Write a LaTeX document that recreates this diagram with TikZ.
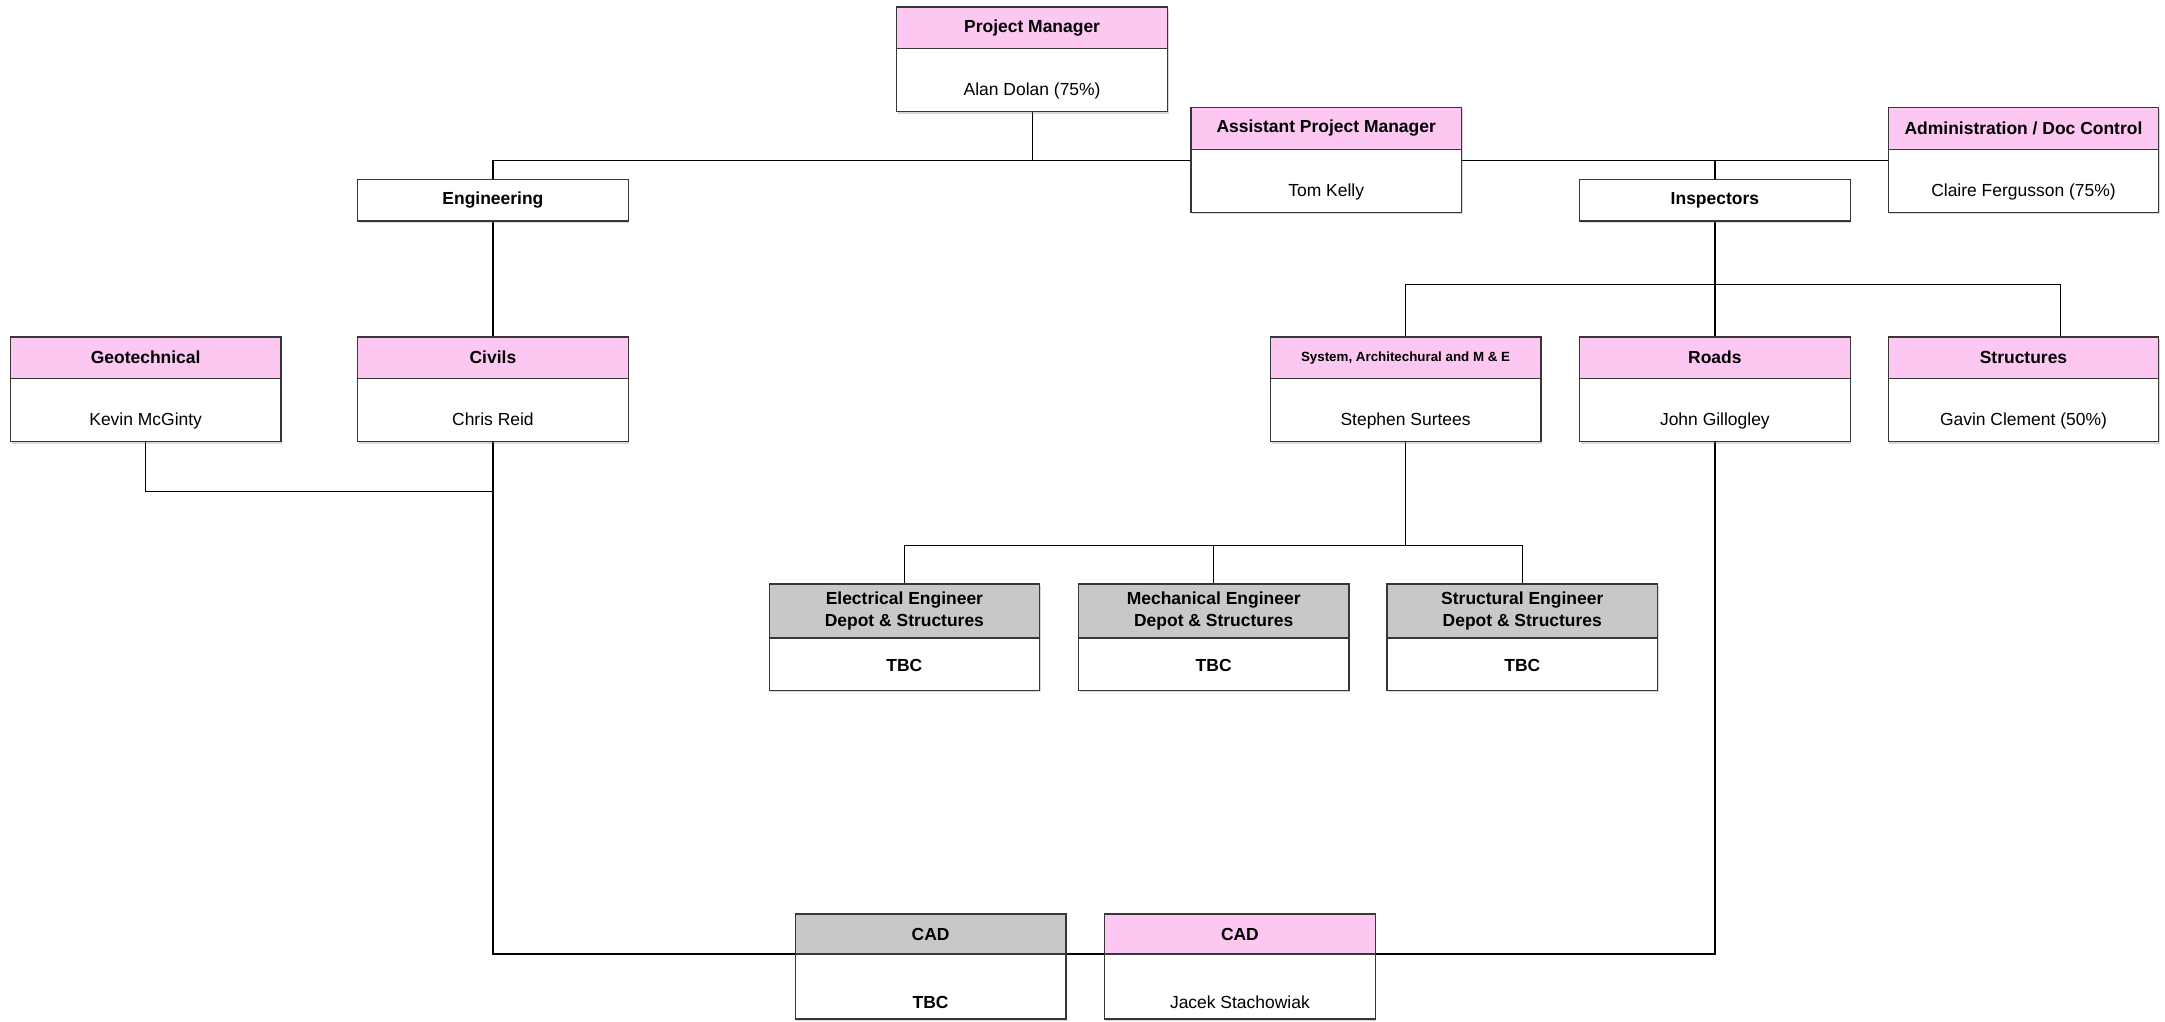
\documentclass[tikz,border=0pt]{standalone}
\usepackage{fontspec}
\setmainfont{Liberation Sans}
\usepackage{tikz}
\usetikzlibrary{positioning}
\usetikzlibrary{backgrounds}
\usetikzlibrary{shadows}
\definecolor{headpink}{RGB}{252,200,242}
\definecolor{headgrey}{RGB}{200,200,200}
\definecolor{boxline}{RGB}{55,55,55}
\tikzset{
  cell/.style={draw=boxline, line width=0.5pt, fill=white, minimum width=3.92cm, inner sep=1pt, outer sep=0pt, align=center,
    drop shadow={shadow xshift=0.5pt, shadow yshift=-0.7pt, opacity=0.3, fill=black!50}},
  head/.style={cell, minimum height=0.6cm, font=\fontsize{7.2}{8.8}\selectfont\bfseries},
  body/.style={cell, minimum height=0.92cm, text depth=0pt, text height=13pt, font=\fontsize{7.2}{8.8}\selectfont},
  link/.style={line width=0.5pt, black},
}
% name, top centre, head options, head text, body options, body text
\newcommand{\orgbox}[6]{%
  \node[head, anchor=north, #3] (#1h) at (#2) {#4};
  \node[body, below=0pt of #1h, #5] (#1) {#6};
}
\begin{document}
\begin{tikzpicture}[x=0.02cm,y=-0.02cm]
\useasboundingbox (0,0) rectangle (1568,739.5);
\orgbox{pm}{747.5,5}{fill=headpink}{Project Manager}{}{Alan Dolan (75\%)}
\orgbox{apm}{960.5,78}{fill=headpink}{Assistant Project Manager}{}{Tom Kelly}
\orgbox{adm}{1465.5,78}{fill=headpink}{Administration / Doc Control}{}{Claire Fergusson (75\%)}
\node[head, anchor=north] (eng) at (357,130) {Engineering};
\node[head, anchor=north] (ins) at (1242,130) {Inspectors};
\orgbox{geo}{105.5,244}{fill=headpink}{Geotechnical}{}{Kevin McGinty}
\orgbox{civ}{357,244}{fill=headpink}{Civils}{}{Chris Reid}
\orgbox{sys}{1018,244}{fill=headpink, font=\fontsize{5.5}{6.6}\selectfont\bfseries}{System, Architechural and M \& E}{}{Stephen Surtees}
\orgbox{rds}{1242,244}{fill=headpink}{Roads}{}{John Gillogley}
\orgbox{str}{1465.5,244}{fill=headpink}{Structures}{}{Gavin Clement (50\%)}
\orgbox{ele}{655,423}{fill=headgrey, minimum height=0.78cm}{Electrical Engineer\\Depot \& Structures}{minimum height=0.76cm, text height=6pt}{\textbf{TBC}}
\orgbox{mec}{879,423}{fill=headgrey, minimum height=0.78cm}{Mechanical Engineer\\Depot \& Structures}{minimum height=0.76cm, text height=6pt}{\textbf{TBC}}
\orgbox{stc}{1102.5,423}{fill=headgrey, minimum height=0.78cm}{Structural Engineer\\Depot \& Structures}{minimum height=0.76cm, text height=6pt}{\textbf{TBC}}
\orgbox{cadg}{674,662}{fill=headgrey, minimum height=0.58cm}{CAD}{minimum height=0.94cm, text height=18pt}{\textbf{TBC}}
\orgbox{cadp}{898,662}{fill=headpink, minimum height=0.58cm}{CAD}{minimum height=0.94cm, text height=18pt}{Jacek Stachowiak}
\begin{scope}[on background layer]
\coordinate (tb) at (747.5,116);
\coordinate (gj) at (357,356);
\coordinate (ib) at (1242,206);
\coordinate (sb) at (1018,395);
\draw[link] (pm.south) -- (tb);
\draw[link] (eng.north) |- (tb) -- (tb -| adm.west);
\draw[link] (ins.north) -- (ins.north |- tb);
\draw[link] (eng.south) -- (civh.north);
\draw[link] (geo.south) |- (gj);
\draw[link] (civ.south) |- (rds.south |- cadgh.south) -- (rds.south);
\draw[link] (ins.south) -- (rdsh.north);
\draw[link] (sysh.north) |- (ib) -| ([xshift=0.54cm]strh.north);
\draw[link] (sys.south) -- (sb);
\draw[link] (eleh.north) |- (sb) -| (stch.north);
\draw[link] (mech.north) -- (mech.north |- sb);
\end{scope}
\end{tikzpicture}
\end{document}
